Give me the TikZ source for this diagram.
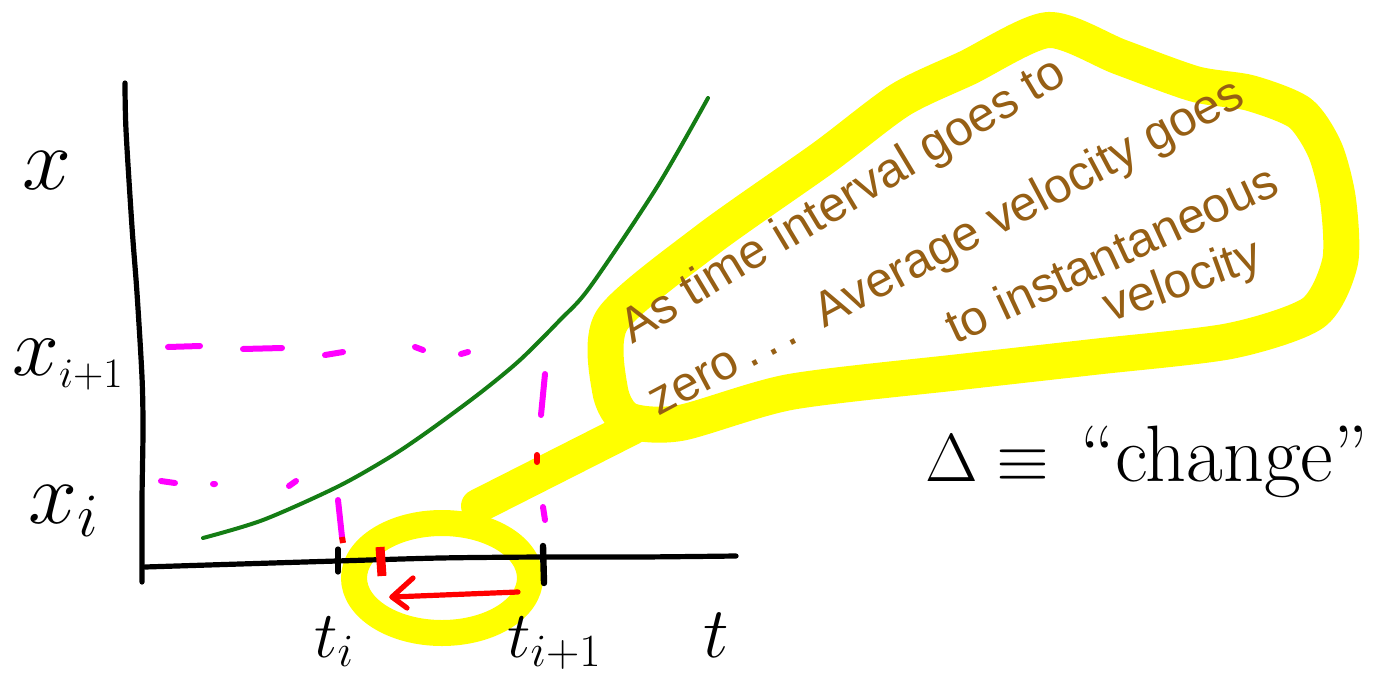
\documentclass[tikz,border=0pt]{standalone}
\usepackage{fix-cm}
\usepackage[no-math]{fontspec}
\newfontfamily\handfont{Liberation Sans}
\definecolor{hlyellow}{RGB}{255,255,0}
\definecolor{curvegreen}{RGB}{20,125,20}
\definecolor{dashmag}{RGB}{255,0,255}
\definecolor{notebrown}{RGB}{150,95,20}
\definecolor{markred}{RGB}{255,0,0}
\begin{document}
\begin{tikzpicture}[x=0.5pt,y=-0.5pt,
  axisline/.style={line width=2.6pt, line cap=round, line join=round, black},
  hl/.style={draw=hlyellow, line join=round, line cap=round},
  curveline/.style={draw=curvegreen, line width=2pt, line cap=round},
  magdash/.style={draw=dashmag, line width=3pt, line cap=round},
  redmark/.style={draw=markred, line width=2.6pt, line cap=round, line join=round},
  note/.style={text=notebrown, font=\handfont\fontsize{24.5}{27}\selectfont, inner sep=0pt, anchor=center},
  lbl/.style={inner sep=0pt, text=black}]
\useasboundingbox (0,0) rectangle (1384,690);

% yellow highlights
\draw[hl, line width=18pt] plot[smooth cycle, tension=0.45] coordinates {
  (612,320) (707,240) (823,158) (900,100) (967,68) (1048,30) (1120,57)
  (1195,84) (1250,93) (1300,113) (1325,150) (1338,200) (1340,262)
  (1313,313) (1230,341) (1093,357) (960,372) (790,392) (680,423) (628,420) (610,390)};
\coordinate (tailA) at (632,428);
\coordinate (tailB) at (478,506);
\draw[hl, line width=17pt] (tailA) -- (tailB);
\draw[hl, line width=13pt] (442,578) ellipse [x radius=88, y radius=55];

% magenta dashed guides
\draw[magdash] (168,347) -- (200,346) (243,349) -- (282,348) (325,355) -- (343,352)
  (415,347) -- (423,350) (461,354) -- (468,352);
\draw[magdash] (161,481) -- (175,483) (213,484) -- (215,484) (289,486) -- (296,481);
\draw[magdash] (338,500) -- (342,537);
\draw[draw=markred, line width=3pt] (342,537) -- (343,543);
\draw[magdash] (545,374) -- (541,415) (543,507) -- (545,520);
\draw[draw=markred, line width=3pt, line cap=round] (537,455) -- (537,462);

% axes
\draw[axisline] plot[smooth] coordinates {(125,83) (126,130) (132,227) (137,293) (142,377) (143,430) (142,500) (142,582)};
\draw[axisline] plot[smooth] coordinates {(145,567) (240,564) (337,561) (440,558) (543,557) (640,557) (736,556)};
\draw[axisline] (338,549) -- (338,572);
\draw[axisline, line width=3.2pt] (543,546) -- (544,583);

% green curve
\draw[curveline] plot[smooth] coordinates {(203,538) (263,520) (337,487) (390,457) (430,430)
  (480,393) (520,360) (560,320) (590,287) (657,187) (708,98)};

% red marks
\draw[redmark, line width=4.5pt, line cap=butt] (380,547) -- (382,576);
\coordinate (arrS) at (518,592);
\coordinate (arrE) at (392,597);
\coordinate (barbU) at (413,578);
\coordinate (barbL) at (407,608);
\draw[redmark] (arrS) -- (arrE);
\draw[redmark] (barbU) -- (arrE) -- (barbL);

% axis labels
\node[lbl, anchor=center] (xlab) at (47,171) {\fontsize{44}{48}\selectfont $x$};
\node[lbl, anchor=base west] (xip) at (12,375) {\fontsize{42}{46}\selectfont $x_{\scriptscriptstyle i+1}$};
\node[lbl, anchor=base west] (xi) at (28,523) {\fontsize{44}{48}\selectfont $x_i$};
\node[lbl, anchor=base west] (ti) at (314,657) {\fontsize{33}{36}\selectfont $t_i$};
\node[lbl, anchor=base west] (tip) at (507,657) {\fontsize{33}{36}\selectfont $t_{i+1}$};
\node[lbl, anchor=base west] (tlab) at (703,657) {\fontsize{36}{40}\selectfont $t$};
\node[lbl, anchor=base west] (delta) at (925,481) {\fontsize{34}{38}\selectfont $\Delta\equiv$};
\node[lbl, anchor=base west] (chg) at (1080,481) {\fontsize{40}{44}\selectfont ``change''};

% note in the bubble
\node[note, rotate=31] (n1) at (844,202) {As time interval goes to};
\node[note, rotate=28] (n2) at (947,249) {zero\,.\,.\,.\ \ Average velocity goes};
\node[note, rotate=25] (n3) at (1111,253) {to instantaneous};
\node[note, rotate=20] (n4) at (1183,283) {velocity};
\end{tikzpicture}
\end{document}
